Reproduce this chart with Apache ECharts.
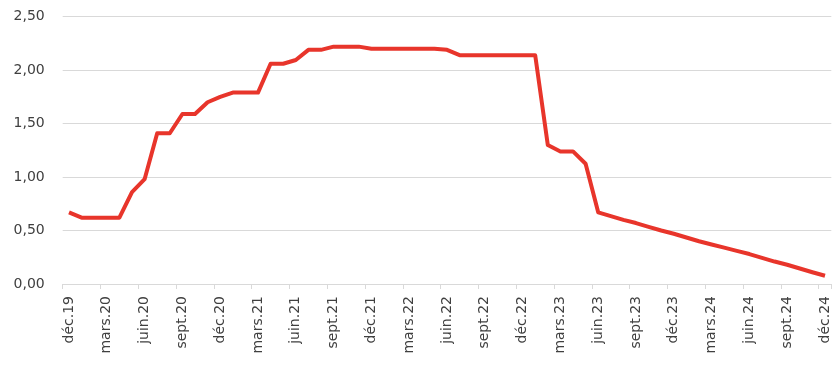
<!DOCTYPE html>
<html>
<head>
<meta charset="utf-8">
<script src="https://cdn.jsdelivr.net/npm/echarts@6/dist/echarts.min.js"></script>
<style>
html,body{margin:0;padding:0;background:#fff;}
#c{width:838px;height:366px;}
</style>
</head>
<body>
<div id="c"></div>
<script>
var categories = [
 'déc.19','janv.20','févr.20','mars.20','avr.20','mai.20','juin.20','juil.20','août.20','sept.20','oct.20','nov.20',
 'déc.20','janv.21','févr.21','mars.21','avr.21','mai.21','juin.21','juil.21','août.21','sept.21','oct.21','nov.21',
 'déc.21','janv.22','févr.22','mars.22','avr.22','mai.22','juin.22','juil.22','août.22','sept.22','oct.22','nov.22',
 'déc.22','janv.23','févr.23','mars.23','avr.23','mai.23','juin.23','juil.23','août.23','sept.23','oct.23','nov.23',
 'déc.23','janv.24','févr.24','mars.24','avr.24','mai.24','juin.24','juil.24','août.24','sept.24','oct.24','nov.24',
 'déc.24'
];
var values = [
 0.67, 0.62, 0.62, 0.62, 0.62, 0.86, 0.98, 1.41, 1.41, 1.59, 1.59, 1.70,
 1.75, 1.79, 1.79, 1.79, 2.06, 2.06, 2.095, 2.19, 2.19, 2.22, 2.22, 2.22,
 2.20, 2.20, 2.20, 2.20, 2.20, 2.20, 2.19, 2.14, 2.14, 2.14, 2.14, 2.14,
 2.14, 2.14, 1.30, 1.24, 1.24, 1.125, 0.67, 0.635, 0.60, 0.57, 0.535, 0.50,
 0.47, 0.435, 0.40, 0.37, 0.34, 0.31, 0.28, 0.245, 0.21, 0.18, 0.145, 0.11,
 0.077
];
var yTicks = [0, 0.5, 1, 1.5, 2, 2.5];

var chart = echarts.init(document.getElementById('c'), null, {renderer:'canvas'});
chart.setOption({
  animation:false,
  backgroundColor:'#ffffff',
  grid:{left:62.7, right:6.7, top:16.7, bottom:82, containLabel:false},
  xAxis:{
    type:'category',
    data:categories,
    boundaryGap:true,
    axisLine:{show:true, lineStyle:{color:'#d9d9d9', width:1}},
    axisTick:{show:true, interval:2, length:5, lineStyle:{color:'#d9d9d9'}},
    axisLabel:{interval:2, rotate:90, margin:12, color:'#404040', fontFamily:'DejaVu Sans', fontSize:14}
  },
  yAxis:{
    type:'value',
    min:yTicks[0], max:yTicks[yTicks.length-1], interval:0.5,
    axisLine:{show:false}, axisTick:{show:false},
    splitLine:{show:true, lineStyle:{color:'#d9d9d9', width:1}},
    axisLabel:{margin:18, color:'#404040', fontFamily:'DejaVu Sans', fontSize:14,
      formatter:function(v){return v.toFixed(2).replace('.', ',');}}
  },
  series:[{
    type:'line',
    data:values,
    symbol:'none',
    lineStyle:{color:'#e8352b', width:4, join:'round'},
    itemStyle:{color:'#e8352b'}
  }]
});
</script>
</body>
</html>
